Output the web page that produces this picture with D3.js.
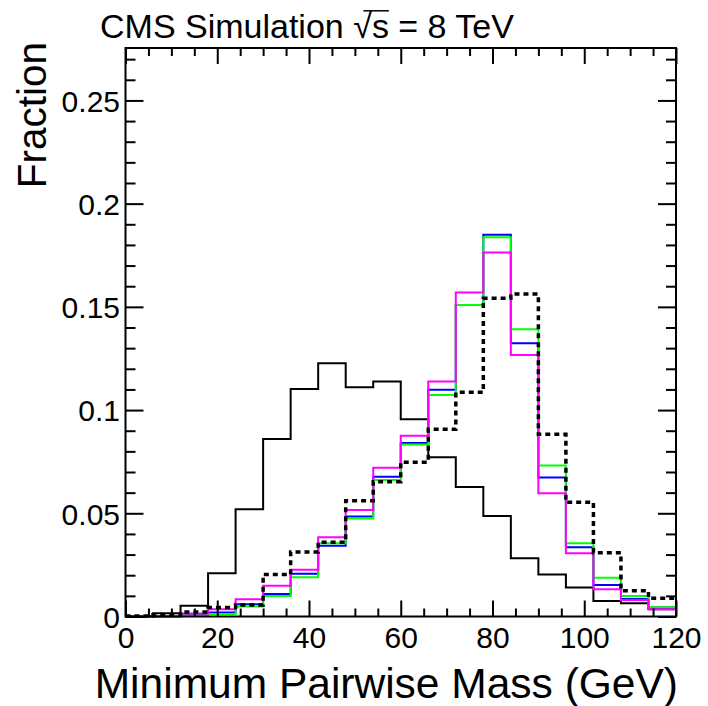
<!DOCTYPE html>
<html>
<head>
<meta charset="utf-8">
<script src="https://cdn.jsdelivr.net/npm/d3@7"></script>
<style>
  html, body { margin: 0; padding: 0; background: #fff; }
  svg { display: block; }
  text { font-family: "Liberation Sans", Arial, Helvetica, sans-serif; fill: #000; }
</style>
</head>
<body>
<svg id="chart" width="708" height="706"></svg>
<script>
// Bin edges of the minimum pairwise mass histograms (GeV)
const binEdges = [0, 6, 12, 18, 24, 30, 36, 42, 48, 54, 60, 66, 72, 78, 84, 90, 96, 102, 108, 114, 120];

// Normalised fractions per bin
const solidBlack = [0.0003, 0.0016, 0.0052, 0.0209, 0.0519, 0.0860, 0.1102, 0.1227, 0.1110, 0.1138,
                    0.0955, 0.0771, 0.0627, 0.0487, 0.0282, 0.0204, 0.0141, 0.0075, 0.0064, 0.0035];
const dashedBlack = [0.0002, 0.0008, 0.0022, 0.0043, 0.0056, 0.0204, 0.0312, 0.0360, 0.0561, 0.0653,
                     0.0747, 0.0907, 0.1086, 0.1542, 0.1562, 0.0883, 0.0553, 0.0309, 0.0125, 0.0088];
const blueLine = [0, 0, 0.0008, 0.0019, 0.0059, 0.0109, 0.0207, 0.0343, 0.0485, 0.0677,
                  0.0840, 0.1099, 0.1509, 0.1849, 0.1324, 0.0673, 0.0335, 0.0153, 0.0085, 0.0043];
const greenLine = [0, 0, 0.0005, 0.0012, 0.0048, 0.0099, 0.0190, 0.0355, 0.0475, 0.0661,
                   0.0833, 0.1073, 0.1509, 0.1837, 0.1391, 0.0731, 0.0355, 0.0188, 0.0099, 0.0045];
const magentaLine = [0, 0, 0.0015, 0.0035, 0.0083, 0.0149, 0.0227, 0.0384, 0.0516, 0.0721,
                     0.0876, 0.1138, 0.1569, 0.1763, 0.1267, 0.0597, 0.0306, 0.0132, 0.0080, 0.0035];

// Axis ticks
const xMajor = [0, 20, 40, 60, 80, 100, 120];
const xMinor = [5, 10, 15, 25, 30, 35, 45, 50, 55, 65, 70, 75, 85, 90, 95, 105, 110, 115];
const yMajor = [0, 0.05, 0.1, 0.15, 0.2, 0.25];
const yMajorLabels = ["0", "0.05", "0.1", "0.15", "0.2", "0.25"];
const yMinor = [0.01, 0.02, 0.03, 0.04, 0.06, 0.07, 0.08, 0.09, 0.11, 0.12, 0.13, 0.14,
                0.16, 0.17, 0.18, 0.19, 0.21, 0.22, 0.23, 0.24, 0.26, 0.27];

const frame = { left: 125.5, right: 676, top: 48, bottom: 616.5 };
const yMax = 0.2754;

const svg = d3.select("#chart");
const x = d3.scaleLinear().domain([0, 120]).range([frame.left, frame.right]);
const y = d3.scaleLinear().domain([0, yMax]).range([frame.bottom, frame.top]);

// Step outline of a histogram
function stepPoints(values) {
  const pts = [];
  values.forEach((v, i) => {
    pts.push([x(binEdges[i]), y(v)]);
    pts.push([x(binEdges[i + 1]), y(v)]);
  });
  return pts;
}
const line = d3.line();

const plot = svg.append("g");
const series = [
  { values: solidBlack, color: "#000", width: 2, dash: null },
  { values: blueLine, color: "#0000ff", width: 2, dash: null },
  { values: greenLine, color: "#00ff00", width: 2, dash: null },
  { values: magentaLine, color: "#ff00ff", width: 2, dash: null },
  { values: dashedBlack, color: "#000", width: 3.5, dash: "5,4" }
];
series.forEach(s => {
  plot.append("path")
    .attr("d", line(stepPoints(s.values)))
    .attr("fill", "none")
    .attr("stroke", s.color)
    .attr("stroke-width", s.width)
    .attr("stroke-dasharray", s.dash);
});

// Frame and ticks
function styleAxis(g) {
  g.select(".domain").remove();
  g.selectAll(".tick line").attr("stroke", "#000").attr("stroke-width", 2);
  g.selectAll("text").attr("font-family", "'Liberation Sans', Arial, Helvetica, sans-serif")
    .attr("font-size", 30).attr("fill", "#000");
}

svg.append("g").attr("transform", `translate(0,${frame.bottom})`)
  .call(d3.axisBottom(x).tickValues(xMajor).tickSize(-16).tickPadding(10).tickFormat(d3.format("d")))
  .call(styleAxis);
svg.append("g").attr("transform", `translate(0,${frame.bottom})`)
  .call(d3.axisBottom(x).tickValues(xMinor).tickSize(-8).tickFormat(""))
  .call(styleAxis);
svg.append("g").attr("transform", `translate(0,${frame.top})`)
  .call(d3.axisTop(x).tickValues(xMajor).tickSize(-16).tickFormat(""))
  .call(styleAxis);
svg.append("g").attr("transform", `translate(0,${frame.top})`)
  .call(d3.axisTop(x).tickValues(xMinor).tickSize(-8).tickFormat(""))
  .call(styleAxis);

svg.append("g").attr("transform", `translate(${frame.left},0)`)
  .call(d3.axisLeft(y).tickValues(yMajor).tickSize(-18).tickPadding(5.5)
    .tickFormat((d, i) => yMajorLabels[i]))
  .call(styleAxis)
  .call(g => g.selectAll("text").attr("dy", "0.36em"));
svg.append("g").attr("transform", `translate(${frame.left},0)`)
  .call(d3.axisLeft(y).tickValues(yMinor).tickSize(-10).tickFormat(""))
  .call(styleAxis);
svg.append("g").attr("transform", `translate(${frame.right},0)`)
  .call(d3.axisRight(y).tickValues(yMajor).tickSize(-18).tickFormat(""))
  .call(styleAxis);
svg.append("g").attr("transform", `translate(${frame.right},0)`)
  .call(d3.axisRight(y).tickValues(yMinor).tickSize(-10).tickFormat(""))
  .call(styleAxis);

svg.append("rect")
  .attr("x", frame.left).attr("y", frame.top)
  .attr("width", frame.right - frame.left).attr("height", frame.bottom - frame.top)
  .attr("fill", "none").attr("stroke", "#000").attr("stroke-width", 2);

// Axis titles
svg.append("text")
  .attr("x", frame.right + 2).attr("y", 698)
  .attr("text-anchor", "end").attr("font-size", 42.5)
  .text("Minimum Pairwise Mass (GeV)");

svg.append("text")
  .attr("transform", `translate(46,${frame.top - 6}) rotate(-90)`)
  .attr("text-anchor", "end").attr("font-size", 40.5)
  .text("Fraction");

// Header with the sqrt(s) label
const head = svg.append("text")
  .attr("x", 100).attr("y", 38).attr("font-size", 34);
head.append("tspan").text("CMS Simulation ");
head.append("tspan").text("\u221A");
head.append("tspan").text("s");
head.append("tspan").text(" = 8 TeV");
const node = head.node();
const sIndex = "CMS Simulation \u221A".length;
const x0 = node.getStartPositionOfChar(sIndex - 1).x + 0.55 * (node.getEndPositionOfChar(sIndex - 1).x - node.getStartPositionOfChar(sIndex - 1).x);
const x1 = node.getEndPositionOfChar(sIndex).x;
svg.append("line")
  .attr("x1", x0).attr("x2", x1)
  .attr("y1", 38 - 34 * 0.80).attr("y2", 38 - 34 * 0.80)
  .attr("stroke", "#000").attr("stroke-width", 1.5);
</script>
</body>
</html>
